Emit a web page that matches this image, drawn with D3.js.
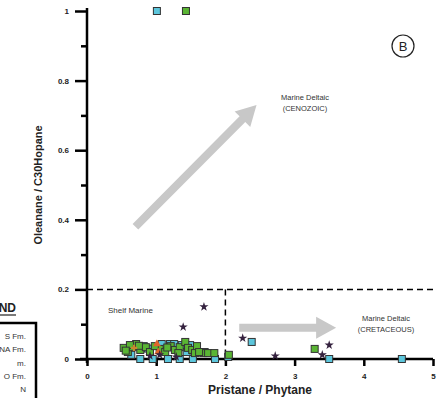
<html>
<head>
  <meta charset="utf-8">
  <title>Oleanane vs Pr/Ph</title>
  <script src="https://cdnjs.cloudflare.com/ajax/libs/d3/7.8.5/d3.min.js"></script>
  <style>
    body { margin: 0; background: #fff; }
    text { font-family: Arial, "Liberation Sans", sans-serif; }
  </style>
</head>
<body>
  <svg></svg>
  <script>
// data: [pristane/phytane, oleanane/C30 hopane]
var greenPts = [[0.59,0.02],[0.66,0.034],[0.77,0.026],[0.85,0.034],[0.91,0.02],[1.05,0.029],
  [1.13,0.02],[1.21,0.037],[1.27,0.026],[1.34,0.034],[1.42,0.049],[1.46,0.032],[1.52,0.026],
  [1.59,0.037],[1.68,0.017],[1.75,0.017],[0.53,0.032],[0.71,0.043],[0.98,0.037],[1.32,0.017],
  [1.84,0.017],[2.05,0.012],[3.29,0.029],[1.43,1.0],[0.62,0.04],[0.75,0.038],[1.16,0.033],
  [1.56,0.017],[1.62,0.02],[0.56,0.024]];
var cyanPts = [[1.01,1.0],[0.77,0],[0.95,0],[1.17,0],[1.34,0],[1.53,0],[1.85,0],[0.82,0.037],
  [1.2,0.043],[1.37,0.04],[1.49,0.04],[1.7,0.02],[1.08,0.043],[2.04,0.006],[2.38,0.049],
  [3.5,0],[4.55,0],[0.64,0.012],[1.26,0.043],[1.44,0.02],[0.88,0.03]];
var starPts = [[1.69,0.15],[1.39,0.092],[2.25,0.06],[2.72,0.009],[3.5,0.04],[3.4,0.012],
  [1.05,0.012],[1.29,0.006],[0.91,0.009]];
var triPts = [[1.01,0.043],[1.03,0.02]];
var plusPts = [[0.68,0.032]];
var xTicks = [0,1,2,3,4,5];
var yTicks = [0,0.2,0.4,0.6,0.8,1];
var yMinor = [0.1,0.3,0.5,0.7,0.9];
var legendItems = ["S Fm.","NA Fm.","m.","O Fm.","N"];

var w = 436, h = 398;
var svg = d3.select("svg").attr("width",w).attr("height",h);

var x = d3.scaleLinear().domain([0,5]).range([87,433]);
var y = d3.scaleLinear().domain([0,1]).range([359,11]);

// gray arrows
function arrow(x0,y0,x1,y1,sw,hw,hl) {
  var ang = Math.atan2(y1-y0,x1-x0);
  var len = Math.hypot(x1-x0,y1-y0);
  var g = svg.append("g").attr("transform","translate("+x0+","+y0+") rotate("+(ang*180/Math.PI)+")");
  g.append("path")
    .attr("d","M0,"+(-sw/2)+"L"+(len-hl)+","+(-sw/2)+"L"+(len-hl)+","+(-hw/2)+"L"+len+",0L"+(len-hl)+","+(hw/2)+"L"+(len-hl)+","+(sw/2)+"L0,"+(sw/2)+"Z")
    .attr("fill","#c8c8c8");
}
arrow(x(0.7),y(0.38),x(2.45),y(0.73),8,22,20);
arrow(x(2.2),y(0.09),x(3.6),y(0.09),8,22,20);

// dashed boundary lines
svg.append("line").attr("x1",x(0)).attr("x2",x(5)).attr("y1",y(0.2)).attr("y2",y(0.2))
  .attr("stroke","#000").attr("stroke-width",1.5).attr("stroke-dasharray","6,4");
svg.append("line").attr("x1",x(2)).attr("x2",x(2)).attr("y1",y(0.2)).attr("y2",y(0))
  .attr("stroke","#000").attr("stroke-width",1.5).attr("stroke-dasharray","6,4");

// axes
var yAxis = svg.append("g").attr("transform","translate(87,0)")
  .call(d3.axisLeft(y).tickValues(yTicks).tickSize(12).tickPadding(6).tickFormat(function(d){ return d===0?"0":(d===1?"1":d3.format(".1f")(d)); }));
svg.append("g").attr("transform","translate(87,0)")
  .call(d3.axisLeft(y).tickValues(yMinor).tickSize(6).tickFormat(""))
  .select(".domain").remove();
var xAxis = svg.append("g").attr("transform","translate(0,359)")
  .call(d3.axisBottom(x).tickValues(xTicks).tickSize(7).tickPadding(7).tickFormat(d3.format("d")));
svg.selectAll(".domain").attr("stroke-width",2.5);
svg.selectAll(".tick line").attr("stroke-width",2.5);
svg.selectAll(".tick text").attr("font-size",8).attr("font-weight","bold").attr("fill","#222");
yAxis.select(".domain").attr("d","M0,8V363");
xAxis.select(".domain").attr("d","M80,0H433");

// axis titles
svg.append("text").attr("x",260).attr("y",394).attr("text-anchor","middle")
  .attr("font-size",12).attr("font-weight","bold").attr("fill","#222").text("Pristane / Phytane");
svg.append("text").attr("transform","translate(42,185) rotate(-90)").attr("text-anchor","middle")
  .attr("font-size",11).attr("font-weight","bold").attr("fill","#222").text("Oleanane / C30Hopane");

// annotations
var ann = svg.append("g").attr("font-size",7.5).attr("fill","#333").attr("text-anchor","middle");
ann.append("text").attr("x",305).attr("y",100).text("Marine Deltaic");
ann.append("text").attr("x",305).attr("y",111).text("(CENOZOIC)");
ann.append("text").attr("x",386).attr("y",321).text("Marine Deltaic");
ann.append("text").attr("x",386).attr("y",332).text("(CRETACEOUS)");
svg.append("text").attr("x",108).attr("y",313).attr("font-size",8).attr("fill","#333").text("Shelf Marine");
svg.append("circle").attr("cx",403).attr("cy",46).attr("r",11).attr("fill","none").attr("stroke","#222").attr("stroke-width",1.2);
svg.append("text").attr("x",403).attr("y",51).attr("text-anchor","middle").attr("font-size",13).attr("fill","#222").text("B");

// points
var s = 7;
svg.append("g").selectAll("rect.c").data(cyanPts).enter().append("rect")
  .attr("x",function(d){ return x(d[0])-s/2; }).attr("y",function(d){ return y(d[1])-s/2; })
  .attr("width",s).attr("height",s).attr("fill","#5cc6dc").attr("stroke","#333").attr("stroke-width",1);
svg.append("g").selectAll("rect.g").data(greenPts).enter().append("rect")
  .attr("x",function(d){ return x(d[0])-s/2; }).attr("y",function(d){ return y(d[1])-s/2; })
  .attr("width",s).attr("height",s).attr("fill","#5ab534").attr("stroke","#333").attr("stroke-width",1);
svg.append("g").selectAll("path.t").data(triPts).enter().append("path")
  .attr("transform",function(d){ return "translate("+x(d[0])+","+y(d[1])+")"; })
  .attr("d",d3.symbol(d3.symbolTriangle,28)).attr("fill","#e0662a");
svg.append("g").selectAll("path.p").data(plusPts).enter().append("path")
  .attr("transform",function(d){ return "translate("+x(d[0])+","+y(d[1])+")"; })
  .attr("d",d3.symbol(d3.symbolCross,22)).attr("fill","#c9862e");
svg.append("g").selectAll("path.s").data(starPts).enter().append("path")
  .attr("transform",function(d){ return "translate("+x(d[0])+","+y(d[1])+")"; })
  .attr("d",d3.symbol(d3.symbolStar,26)).attr("fill","#35223f");

// legend (mostly cropped off, as in the source figure)
svg.append("text").attr("x",16).attr("y",312).attr("text-anchor","end")
  .attr("font-size",12).attr("font-weight","bold").attr("fill","#222").text("LEGEND");
svg.append("line").attr("x1",0).attr("x2",16).attr("y1",315).attr("y2",315).attr("stroke","#222").attr("stroke-width",1.2);
svg.append("path").attr("d","M-5,323H36V400").attr("fill","none").attr("stroke","#000").attr("stroke-width",2.5);
svg.append("g").selectAll("text").data(legendItems).enter().append("text")
  .attr("x",26).attr("y",function(d,i){ return 339+i*13.3; }).attr("text-anchor","end")
  .attr("font-size",8).attr("fill","#333").text(function(d){ return d; });
  </script>
</body>
</html>
